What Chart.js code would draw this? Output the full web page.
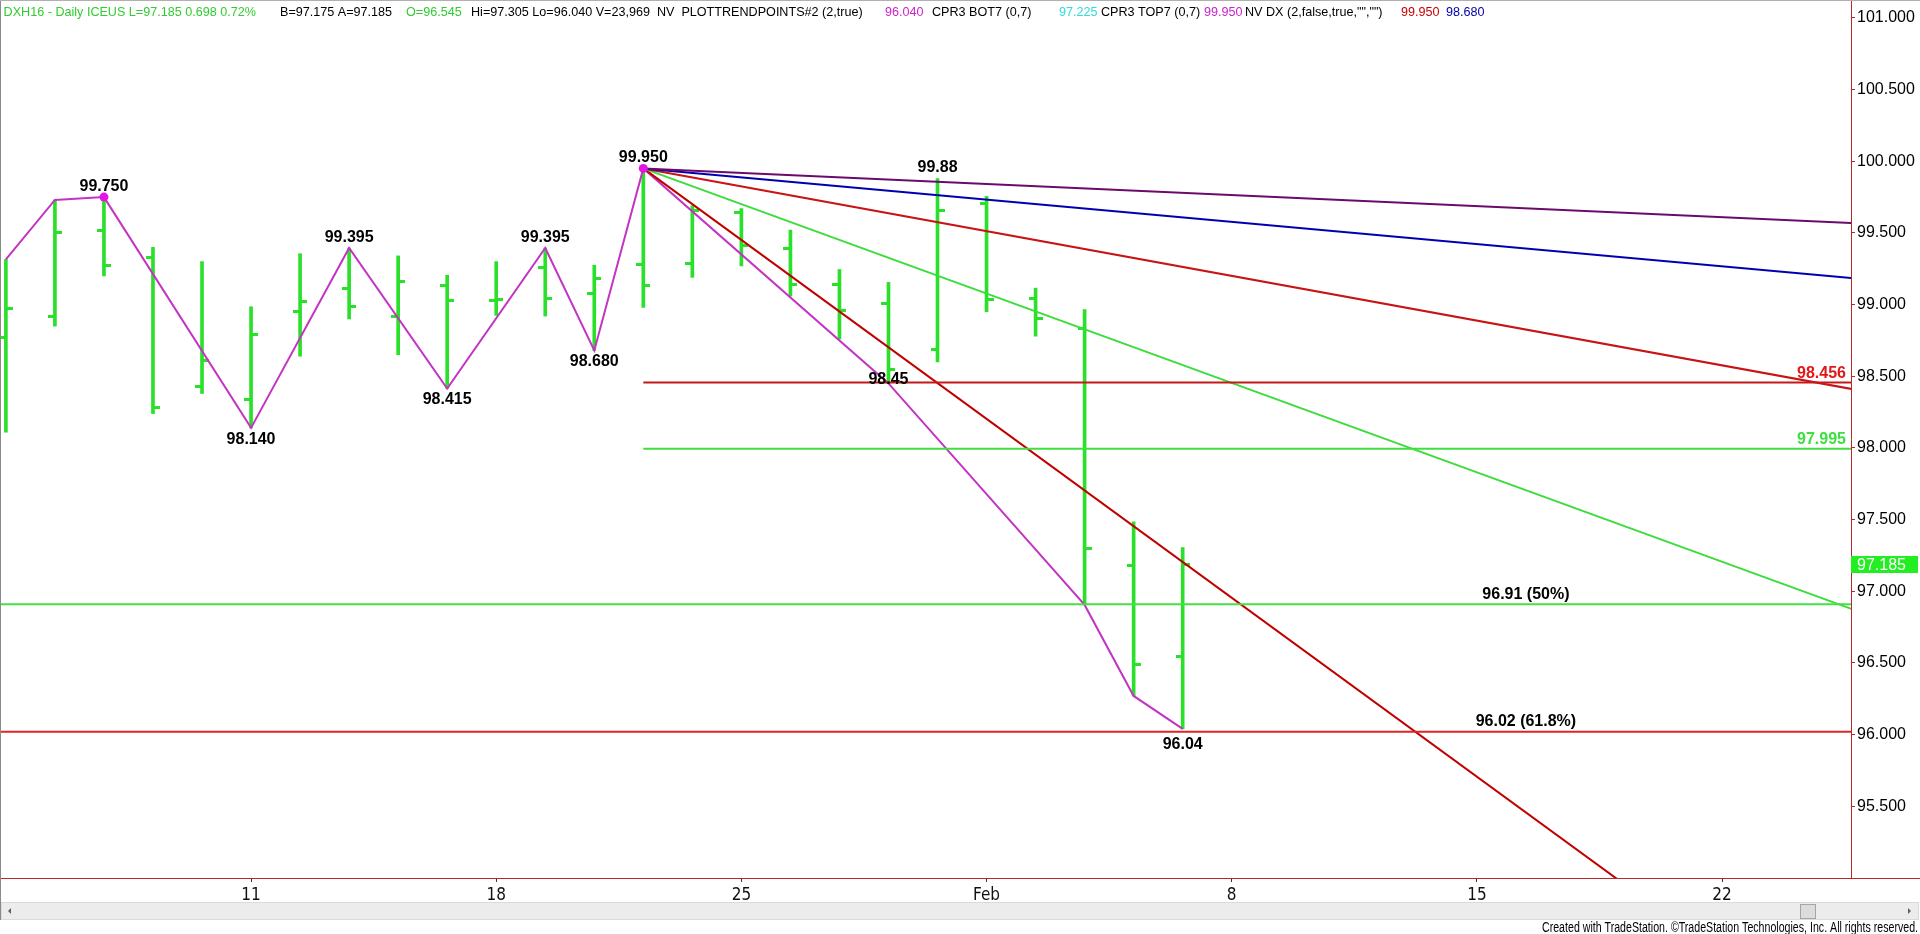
<!DOCTYPE html>
<html><head><meta charset="utf-8">
<script src="https://cdn.jsdelivr.net/npm/chart.js@4.4.1/dist/chart.umd.min.js"></script>
<style>html,body{margin:0;padding:0;background:#fff;overflow:hidden}canvas{display:block}</style>
</head><body>
<canvas id="c" width="1920" height="934"></canvas>
<script>
// ---------- DATA ----------
const dates = ['2016-01-04','2016-01-05','2016-01-06','2016-01-07','2016-01-08','2016-01-11','2016-01-12','2016-01-13','2016-01-14','2016-01-15','2016-01-18','2016-01-19','2016-01-20','2016-01-21','2016-01-22','2016-01-25','2016-01-26','2016-01-27','2016-01-28','2016-01-29','2016-02-01','2016-02-02','2016-02-03','2016-02-04','2016-02-05'];
const opens  = [98.77,98.92,99.52,99.33,98.43,98.34,98.95,99.11,98.92,99.13,99.03,99.26,99.08,99.28,99.285,99.645,99.39,99.14,99.01,98.69,99.705,99.04,98.835,97.18,96.545];
const highs  = [99.315,99.73,99.75,99.40,99.30,98.985,99.355,99.395,99.34,99.205,99.30,99.395,99.275,99.95,99.69,99.67,99.52,99.245,99.155,99.88,99.755,99.115,98.965,97.485,97.305];
const lows   = [98.11,98.85,99.20,98.24,98.38,98.14,98.64,98.90,98.65,98.415,98.925,98.92,98.68,98.98,99.19,99.27,99.06,98.76,98.45,98.60,98.95,98.78,96.905,96.27,96.04];
const closes = [98.97,99.50,99.27,98.28,98.61,98.79,99.02,98.985,99.16,99.03,99.035,99.04,99.18,99.13,99.655,99.41,99.14,98.96,98.55,99.655,99.035,98.90,97.30,96.49,97.185];

const pivotDates  = ['2016-01-04','2016-01-05','2016-01-06','2016-01-11','2016-01-13','2016-01-15','2016-01-19','2016-01-20','2016-01-21','2016-01-28','2016-02-03','2016-02-04','2016-02-05'];
const pivotValues = [99.315,99.73,99.75,98.14,99.395,98.415,99.395,98.68,99.95,98.45,96.905,96.27,96.04];
const markerDates  = ['2016-01-06','2016-01-21'];
const markerValues = [99.75,99.95];

const trendFromDate = '2016-01-21';
const trendFromValue = 99.95;
const trendToDate = '2016-02-25';
const trendNames  = ['purple','blue','red','green','redSteep'];
const trendToValues = [99.564,99.174,98.389,96.832,93.71];

const levelNames  = ['r98456','g97995','g9691','r9602'];
const levelValues = [98.456,97.995,96.91,96.02];
const levelFrom   = ['2016-01-21','2016-01-21','2016-01-01','2016-01-01'];
const levelTo     = ['2016-02-25','2016-02-25','2016-02-25','2016-02-25'];

const swingTexts  = ['99.750','98.140','99.395','98.415','99.395','98.680','99.950','98.45','99.88','96.04'];
const swingDates  = ['2016-01-06','2016-01-11','2016-01-13','2016-01-15','2016-01-19','2016-01-20','2016-01-21','2016-01-28','2016-01-29','2016-02-05'];
const swingValues = [99.75,98.14,99.395,98.415,99.395,98.68,99.95,98.45,99.88,96.04];
const swingSide   = ['above','below','above','below','above','below','above','on','above','below2'];

const tickDates  = ['2016-01-11','2016-01-18','2016-01-25','2016-02-01','2016-02-08','2016-02-15','2016-02-22'];
const tickLabels = ['11','18','25','Feb','8','15','22'];
const yTickValues = [95.5,96,96.5,97,97.5,98,98.5,99,99.5,100,100.5,101];
const lastPrice = 97.185;

// ---------- HELPERS ----------
const BASE = Date.UTC(2016,0,4);
function slot(d){
  const p = d.split('-').map(Number);
  const days = Math.round((Date.UTC(p[0],p[1]-1,p[2]) - BASE)/86400000);
  const w = Math.floor(days/7), r = days - w*7;
  return w*5 + Math.min(r,5);
}
const BAR = '#2ae02a';
function tickImg(side){
  const cv = document.createElement('canvas'); cv.width = 14; cv.height = 3;
  const g = cv.getContext('2d'); g.fillStyle = BAR; g.fillRect(side==='L'?0:7,0,7,3); return cv;
}
const xs = dates.map(slot);
const trendColors = {purple:'#6c0a6c', blue:'#0000b0', red:'#c81414', green:'#3cdc3c', redSteep:'#c00000'};
const levelColors = {r98456:'#c41a1a', g97995:'#3ee03e', g9691:'#44e044', r9602:'#e02424'};
function lineDs(pts, color, w){
  return {type:'line', data:pts, borderColor:color, borderWidth:w||2, pointRadius:0, tension:0, fill:false, order:1};
}
const datasets = [];
datasets.push({type:'bar', data: xs.map((x,i)=>({x, y:[lows[i], highs[i]]})), backgroundColor:BAR, borderWidth:0, barThickness:3, order:5});
datasets.push({type:'line', showLine:false, data: xs.map((x,i)=>({x, y:opens[i]})), pointStyle:tickImg('L'), pointRadius:5, order:5});
datasets.push({type:'line', showLine:false, data: xs.map((x,i)=>({x, y:closes[i]})), pointStyle:tickImg('R'), pointRadius:5, order:5});
levelNames.forEach((n,i)=> datasets.push(lineDs([{x:slot(levelFrom[i]), y:levelValues[i]},{x:slot(levelTo[i]), y:levelValues[i]}], levelColors[n], 2)));
trendNames.forEach((n,i)=> datasets.push(lineDs([{x:slot(trendFromDate), y:trendFromValue},{x:slot(trendToDate), y:trendToValues[i]}], trendColors[n], 2)));
datasets.push(lineDs(pivotDates.map((d,i)=>({x:slot(d), y:pivotValues[i]})), '#c434c4', 2));
datasets.push({type:'line', showLine:false, data: markerDates.map((d,i)=>({x:slot(d), y:markerValues[i]})), pointRadius:4.5, pointBackgroundColor:'#e414e4', pointBorderWidth:0, order:0});

const FONT = '"Liberation Sans", Arial, sans-serif';
const NARROW = '"Liberation Sans Narrow", "DejaVu Sans Condensed", "Liberation Sans", Arial, sans-serif';
const AXIS = '#b8282a';

const header = [
  [3.6,'DXH16 - Daily ICEUS L=97.185 0.698 0.72%','#30cc30'],
  [280,'B=97.175 A=97.185','#000'],
  [406,'O=96.545','#30cc30'],
  [471,'Hi=97.305 Lo=96.040 V=23,969  NV  PLOTTRENDPOINTS#2 (2,true)','#000'],
  [885,'96.040','#cc22cc'],
  [932,'CPR3 BOT7 (0,7)','#000'],
  [1059,'97.225','#30dcdc'],
  [1101,'CPR3 TOP7 (0,7)','#000'],
  [1204,'99.950','#cc22cc'],
  [1245,'NV DX (2,false,true,"","")','#000'],
  [1401,'99.950','#cc0000'],
  [1446,'98.680','#0000aa']
];

function fitText(ctx, text, xRight, y, width){
  const w = ctx.measureText(text).width;
  const k = width / w;
  ctx.save(); ctx.translate(xRight, y); ctx.scale(k, 1); ctx.textAlign = 'right';
  ctx.fillText(text, 0, 0); ctx.restore();
}

const decor = {
  id:'decor',
  afterDatasetsDraw(chart){
    const {ctx, chartArea:a, scales:{x,y}} = chart;
    ctx.save();
    ctx.font = 'bold 16px ' + FONT;
    ctx.textBaseline = 'alphabetic';
    ctx.textAlign = 'right';
    ctx.fillStyle = '#e01818'; ctx.fillText('98.456', a.right-5, y.getPixelForValue(levelValues[0])-5);
    ctx.fillStyle = '#3ce03c'; ctx.fillText('97.995', a.right-5, y.getPixelForValue(levelValues[1])-5);
    ctx.textAlign = 'center'; ctx.fillStyle = '#000';
    ctx.fillText('96.91 (50%)', x.getPixelForValue(31), y.getPixelForValue(levelValues[2])-5);
    ctx.fillText('96.02 (61.8%)', x.getPixelForValue(31), y.getPixelForValue(levelValues[3])-6);
    swingTexts.forEach((t,i)=>{
      const px = x.getPixelForValue(slot(swingDates[i])), py = y.getPixelForValue(swingValues[i]);
      const off = {above:-6, below:16, on:1, below2:20}[swingSide[i]];
      ctx.fillText(t, px, py+off);
    });
    ctx.restore();
  },
  afterDraw(chart){
    const {ctx, chartArea:a, scales:{y}} = chart;
    ctx.save();
    ctx.strokeStyle = '#8a8a8a'; ctx.lineWidth = 1;
    ctx.beginPath(); ctx.moveTo(0.5,0); ctx.lineTo(0.5,920); ctx.stroke();
    ctx.strokeStyle = '#b0b0b0';
    ctx.beginPath(); ctx.moveTo(0,0.5); ctx.lineTo(1920,0.5); ctx.stroke();
    ctx.strokeStyle = AXIS;
    ctx.beginPath(); ctx.moveTo(a.right, Math.round(a.bottom)+0.5); ctx.lineTo(1920, Math.round(a.bottom)+0.5); ctx.stroke();
    ctx.font = '12.6px ' + FONT; ctx.textAlign='left'; ctx.textBaseline='alphabetic';
    header.forEach(h=>{ ctx.fillStyle = h[2]; ctx.fillText(h[1], h[0], 16); });
    const py = y.getPixelForValue(lastPrice);
    ctx.fillStyle = '#22ee22'; ctx.fillRect(a.right, Math.round(py-8.5), 67, 17);
    ctx.fillStyle = '#fff'; ctx.font = '16px ' + FONT; ctx.textBaseline='middle';
    ctx.fillText(lastPrice.toFixed(3), a.right+6, py+1);
    ctx.fillStyle = '#ececec'; ctx.fillRect(1, 903, 1918, 16);
    ctx.strokeStyle = '#dadada'; ctx.strokeRect(1.5, 902.5, 1917, 17);
    ctx.fillStyle = '#dcdcdc'; ctx.fillRect(1800, 904, 15, 14);
    ctx.strokeStyle = '#a4a4a4'; ctx.strokeRect(1800.5, 904.5, 15, 14);
    ctx.fillStyle = '#606060';
    ctx.beginPath(); ctx.moveTo(8,911); ctx.lineTo(11,908); ctx.lineTo(11,914); ctx.closePath(); ctx.fill();
    ctx.beginPath(); ctx.moveTo(1911,911); ctx.lineTo(1908,908); ctx.lineTo(1908,914); ctx.closePath(); ctx.fill();
    ctx.fillStyle = '#000'; ctx.font = '14px ' + FONT; ctx.textBaseline='middle';
    fitText(ctx, 'Created with TradeStation. \u00A9TradeStation Technologies, Inc. All rights reserved.', 1918, 928, 376);
    ctx.restore();
  }
};

new Chart(document.getElementById('c'), {
  type:'line',
  data:{datasets},
  options:{
    responsive:false, animation:false, devicePixelRatio:1, events:[],
    layout:{padding:0, autoPadding:false},
    plugins:{legend:{display:false}, tooltip:{enabled:false}},
    scales:{
      x:{type:'linear', position:'bottom', min:-0.12, max:37.63, offset:false,
        afterBuildTicks:s=>{ s.ticks = tickDates.map(d=>({value:slot(d)})); },
        ticks:{autoSkip:false, maxRotation:0, padding:3, color:'#111', font:{family:NARROW, size:17},
          callback:(v)=>{ const i = tickDates.findIndex(d=>slot(d)===v); return i>=0 ? tickLabels[i] : ''; }},
        grid:{drawOnChartArea:false, drawTicks:true, tickLength:4, color:'#6a2020', offset:false},
        border:{display:true, color:AXIS, width:1},
        afterFit:s=>{ s.height = 56; s.paddingLeft = 0; s.paddingRight = 0; }
      },
      y:{type:'linear', position:'right', min:95, max:101.125,
        afterBuildTicks:s=>{ s.ticks = yTickValues.map(v=>({value:v})); },
        ticks:{padding:2, color:'#000', font:{family:FONT, size:16}, callback:v=>Number(v).toFixed(3)},
        grid:{drawOnChartArea:false, drawTicks:true, tickLength:4, color:AXIS},
        border:{display:true, color:AXIS, width:1},
        afterFit:s=>{ s.width = 69; s.paddingTop = 0; s.paddingBottom = 0; }
      }
    }
  },
  plugins:[decor]
});
</script>
</body></html>
